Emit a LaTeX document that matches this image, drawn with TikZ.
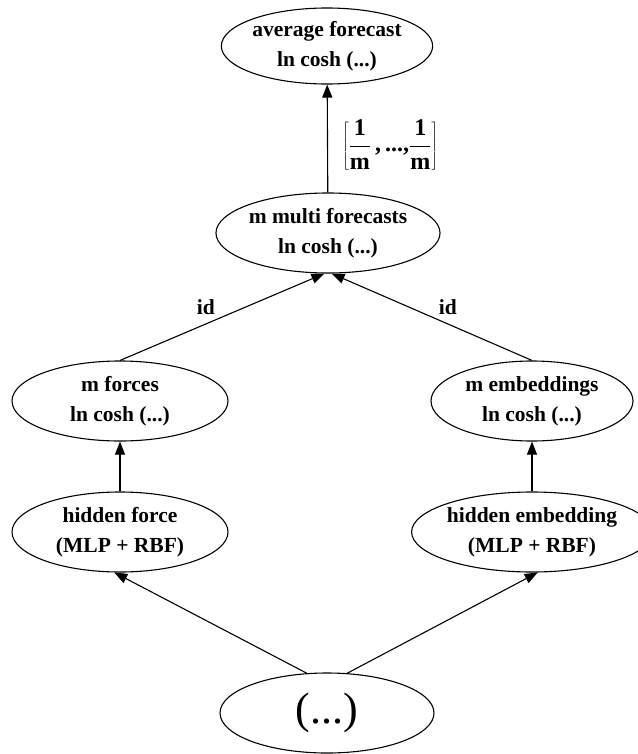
\documentclass[tikz,border=0pt]{standalone}
\usepackage{fontspec}
\setmainfont{Liberation Serif}
\usetikzlibrary{shapes.geometric,arrows.meta}
\begin{document}
\begin{tikzpicture}[x=1pt,y=-1pt,
  every node/.style={font=\bfseries\fontsize{21.5}{30}\selectfont},
  oval/.style={draw,ellipse,line width=1.1pt,inner sep=0pt,align=center},
  arr/.style={line width=1.1pt,-{Triangle[length=13pt,width=10pt]}},
  lbl/.style={inner sep=0pt}]
\useasboundingbox (0,0) rectangle (637,754);

% nodes
\node[oval,minimum width=210,minimum height=76] (avg) at (327,46) {average forecast\\ln cosh (...)};
\node[oval,minimum width=218,minimum height=80] (multi) at (328,233) {m multi forecasts\\ln cosh (...)};
\node[oval,minimum width=216,minimum height=80] (forces) at (120,401) {m forces\\ln cosh (...)};
\node[oval,minimum width=202,minimum height=80] (emb) at (532,401) {m embeddings\\ln cosh (...)};
\node[oval,minimum width=216,minimum height=80] (hf) at (120,532) {hidden force\\(MLP + RBF)};
\node[oval,minimum width=202,minimum height=80] (he) at (532,532) {hidden embedding\\(MLP + RBF)};
\node[oval,minimum width=214,minimum height=80,font=\mdseries\fontsize{44}{48}\selectfont] (dots) at (327,713) {(...)};

% edges
\draw[arr] (multi) -- (avg)
  node[lbl,midway,right=14pt,yshift=-6pt,font=\bfseries\fontsize{24}{30}\selectfont]
  (w) {$\displaystyle\left[\frac{\mbox{\bfseries 1}}{\mbox{\bfseries m}}\mbox{\bfseries\,,\,...,}\frac{\mbox{\bfseries 1}}{\mbox{\bfseries m}}\right]$};
\draw[arr] (forces.north) -- (multi.-95) node[lbl,pos=0.42,above=9pt] (id1) {id};
\draw[arr] (emb.north) -- (multi.-85) node[lbl,pos=0.42,above=9pt] (id2) {id};
\draw[arr] (hf) -- (forces);
\draw[arr] (he) -- (emb);
\draw[arr] (dots.117) -- (hf.-98);
\draw[arr] (dots.63) -- (he.-82);
\end{tikzpicture}
\end{document}
